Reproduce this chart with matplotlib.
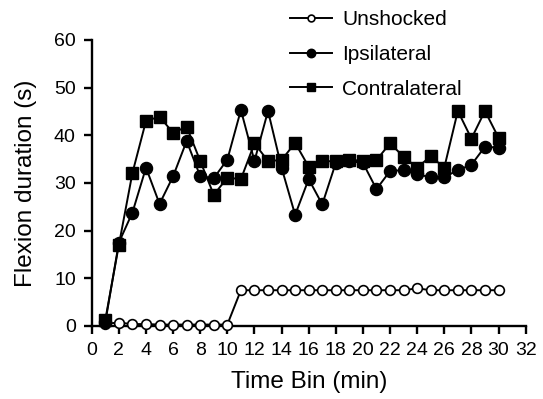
import numpy as np
import matplotlib
matplotlib.use('Agg')
import matplotlib.pyplot as plt

plt.rcParams['font.family'] = ['Liberation Sans', 'DejaVu Sans']

time_bins = list(range(1, 31))

unshocked = [0.5, 0.7, 0.4, 0.4, 0.3, 0.3, 0.3, 0.3, 0.3, 0.3,
             7.5, 7.5, 7.5, 7.5, 7.5, 7.5, 7.5, 7.5, 7.5, 7.5,
             7.5, 7.5, 7.5, 7.9, 7.5, 7.5, 7.5, 7.5, 7.5, 7.5]

ipsilateral = [0.8, 17.5, 23.8, 33.2, 25.6, 31.4, 38.8, 31.4, 31.0, 34.9,
               45.3, 34.6, 45.1, 33.2, 23.3, 30.8, 25.5, 34.2, 34.6, 34.2,
               28.7, 32.5, 32.7, 31.8, 31.2, 31.2, 32.7, 33.8, 37.6, 37.4]

contralateral = [1.3, 17.0, 32.1, 43.0, 43.9, 40.5, 41.8, 34.6, 27.5, 31.1,
                 30.8, 38.3, 34.6, 34.8, 38.4, 33.4, 34.5, 34.6, 34.9, 34.6,
                 34.8, 38.3, 35.5, 33.2, 35.6, 33.2, 45.1, 39.3, 45.1, 39.5]

x_ticks = list(range(0, 33, 2))
y_ticks = list(range(0, 61, 10))

fig = plt.figure(figsize=(5.43, 3.99), dpi=100)
ax = fig.add_axes([0.169, 0.183, 0.799, 0.717])

ax.plot(time_bins, unshocked, color='black', lw=1.4, marker='o', ms=7,
        mfc='white', mec='black', mew=1.2, label='Unshocked', clip_on=False, zorder=3)
ax.plot(time_bins, ipsilateral, color='black', lw=1.4, marker='o', ms=8.7,
        mfc='black', mec='black', label='Ipsilateral', clip_on=False, zorder=4)
ax.plot(time_bins, contralateral, color='black', lw=1.4, marker='s', ms=8,
        mfc='black', mec='black', label='Contralateral', clip_on=False, zorder=5)

ax.set_xlim(0, 32)
ax.set_ylim(0, 60)
ax.set_xticks(x_ticks)
ax.set_yticks(y_ticks)
ax.spines['top'].set_visible(False)
ax.spines['right'].set_visible(False)
ax.spines['left'].set_linewidth(1.7)
ax.spines['bottom'].set_linewidth(1.7)
ax.tick_params(direction='out', length=5.5, width=1.7, labelsize=14, pad=6)
ax.set_xlabel('Time Bin (min)', fontsize=17.5, labelpad=9)
ax.set_ylabel('Flexion duration (s)', fontsize=17.5, labelpad=12)

leg = ax.legend(loc='upper left', bbox_to_anchor=(0.534, 0.974), bbox_transform=fig.transFigure,
                frameon=False, fontsize=15, handlelength=2.0, handletextpad=0.5,
                labelspacing=0.75, markerscale=0.7, borderaxespad=0, borderpad=0)

fig.savefig('out.png', dpi=100)
